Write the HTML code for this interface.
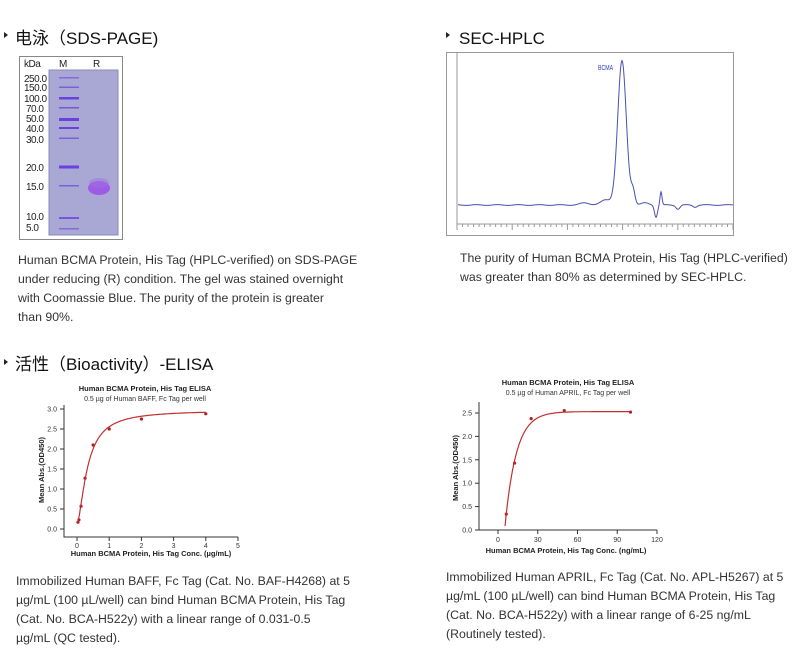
<!DOCTYPE html>
<html><head><meta charset="utf-8"><style>
html,body{margin:0;padding:0;background:#fff;}
svg{display:block;}
.h{font-family:"Liberation Sans","Noto Sans CJK SC",sans-serif;font-size:17px;fill:#111;}
.c{font-family:"Liberation Sans",sans-serif;font-size:12.3px;fill:#333;}
.t{font-family:"Liberation Sans",sans-serif;font-size:7px;fill:#333;}
.tb{font-family:"Liberation Sans",sans-serif;font-size:7.5px;font-weight:bold;fill:#222;}
.g{font-family:"Liberation Sans",sans-serif;font-size:10px;fill:#222;letter-spacing:-0.5px;}
</style></head><body>
<svg id="s" width="800" height="651" viewBox="0 0 800 651" xmlns="http://www.w3.org/2000/svg">
<path d="M4,32 L8,35 L4,38Z" fill="#222"/>
<text class="h" x="15" y="44">电泳（SDS-PAGE)</text>
<path d="M446,32 L450,35 L446,38Z" fill="#222"/>
<text class="h" x="459" y="44">SEC-HPLC</text>
<path d="M4,359 L8,362 L4,365Z" fill="#222"/>
<text class="h" x="15" y="370">活性（Bioactivity）-ELISA</text>

<rect x="19.5" y="56.5" width="103" height="183" fill="#fff" stroke="#888"/>
<text class="g" x="24" y="67">kDa</text><text class="g" x="59" y="67">M</text><text class="g" x="93" y="67">R</text>
<rect x="49" y="70" width="69" height="165" fill="#a9a8d4" stroke="#8a88b8"/>
<g class="g">
<text x="24" y="82">250.0</text><text x="24" y="91">150.0</text><text x="24" y="102">100.0</text>
<text x="26" y="112">70.0</text><text x="26" y="122">50.0</text><text x="26" y="132">40.0</text>
<text x="26" y="143">30.0</text><text x="26" y="171">20.0</text><text x="26" y="190">15.0</text>
<text x="26" y="220">10.0</text><text x="26" y="231">5.0</text></g>
<g fill="#6a40e0">
<rect x="59" y="77" width="20" height="1.5" opacity=".6"/>
<rect x="59" y="86.5" width="20" height="1.5" opacity=".7"/>
<rect x="59" y="97" width="20" height="2.5"/>
<rect x="59" y="107" width="20" height="1.5" opacity=".8"/>
<rect x="59" y="118" width="20" height="3"/>
<rect x="59" y="127" width="20" height="2"/>
<rect x="59" y="137.5" width="20" height="1.5" opacity=".7"/>
<rect x="59" y="165.5" width="20" height="3"/>
<rect x="59" y="185" width="20" height="1.5" opacity=".7"/>
<rect x="59" y="217" width="20" height="2" opacity=".8"/>
<rect x="59" y="228" width="20" height="1.5" opacity=".6"/>
</g>
<ellipse cx="99" cy="188" rx="11" ry="7" fill="#9a4fe8" opacity=".85"/>
<ellipse cx="99" cy="183" rx="10" ry="5" fill="#a070e0" opacity=".5"/>

<rect x="446.5" y="52.5" width="287" height="183" fill="#fff" stroke="#999"/>
<line x1="457" y1="52" x2="457" y2="224" stroke="#999"/>
<line x1="457" y1="224" x2="733" y2="224" stroke="#999"/>
<g id="hticks" stroke="#999"></g>
<text x="598" y="70" font-family="Liberation Sans" font-size="7" fill="#3040c0" transform="scale(0.75,1)" style="transform-origin:598px 70px">BCMA</text>
<path id="hp" fill="none" stroke="#4a50b0" stroke-width="1"/>

<g class="c">
<text x="18" y="264">Human BCMA Protein, His Tag (HPLC-verified) on SDS-PAGE</text>
<text x="18" y="283">under reducing (R) condition. The gel was stained overnight</text>
<text x="18" y="302">with Coomassie Blue. The purity of the protein is greater</text>
<text x="18" y="321">than 90%.</text>
<text x="460" y="262">The purity of Human BCMA Protein, His Tag (HPLC-verified)</text>
<text x="460" y="281">was greater than 80% as determined by SEC-HPLC.</text>
<text x="16" y="585">Immobilized Human BAFF, Fc Tag (Cat. No. BAF-H4268) at 5</text>
<text x="16" y="604">µg/mL (100 µL/well) can bind Human BCMA Protein, His Tag</text>
<text x="16" y="623">(Cat. No. BCA-H522y) with a linear range of 0.031-0.5</text>
<text x="16" y="642">µg/mL (QC tested).</text>
<text x="446" y="581">Immobilized Human APRIL, Fc Tag (Cat. No. APL-H5267) at 5</text>
<text x="446" y="600">µg/mL (100 µL/well) can bind Human BCMA Protein, His Tag</text>
<text x="446" y="619">(Cat. No. BCA-H522y) with a linear range of 6-25 ng/mL</text>
<text x="446" y="638">(Routinely tested).</text>
</g>

<text class="tb" x="145" y="391" text-anchor="middle">Human BCMA Protein, His Tag ELISA</text>
<text class="t" x="145" y="401" text-anchor="middle" font-size="6">0.5 µg of Human BAFF, Fc Tag per well</text>
<g stroke="#333" fill="none"><path d="M64,405 V537 H238"/></g>
<g id="l1"></g>
<text class="tb" x="0" y="0" transform="translate(44,470) rotate(-90)" text-anchor="middle">Mean Abs.(OD450)</text>
<text class="tb" x="151" y="556" text-anchor="middle">Human BCMA Protein, His Tag Conc. (µg/mL)</text>
<path id="c1" fill="none" stroke="#c03030" stroke-width="1.2"/>

<text class="tb" x="568" y="385" text-anchor="middle">Human BCMA Protein, His Tag ELISA</text>
<text class="t" x="568" y="395" text-anchor="middle" font-size="6">0.5 µg of Human APRIL, Fc Tag per well</text>
<g stroke="#333" fill="none"><path d="M479,402 V530 H657"/></g>
<g id="l2"></g>
<text class="tb" x="0" y="0" transform="translate(458,468) rotate(-90)" text-anchor="middle">Mean Abs.(OD450)</text>
<text class="tb" x="566" y="553" text-anchor="middle">Human BCMA Protein, His Tag Conc. (ng/mL)</text>
<path id="c2" fill="none" stroke="#c03030" stroke-width="1.2"/>
</svg>
<script>
var NS="http://www.w3.org/2000/svg",s=document.getElementById('s');
function el(p,t,a,txt){var e=document.createElementNS(NS,t);for(var k in a)e.setAttribute(k,a[k]);if(txt!=null)e.textContent=txt;p.appendChild(e);return e;}
var ht=document.getElementById('hticks');
for(var i=0;i<=50;i++){var x=457+i*276/50;el(ht,'line',{x1:x,y1:224,x2:x,y2:i%10==0?230:227});}
var d="";
function g(x,c,w,h){return h*Math.exp(-Math.pow((x-c)/w,2)/2);}
for(var x=458;x<=733;x+=0.5){
 var y=205+Math.sin(x*0.3)*0.4;
 y-=g(x,622,4.3,144);y-=g(x,633,2,14);y-=g(x,606,5,5);y-=g(x,585,5,2);
 y+=g(x,656,1.5,12);y-=g(x,661,1,13);y+=g(x,678,2,4);y+=g(x,695,2,2);y-=g(x,645,4,2);
 d+=(d?"L":"M")+x.toFixed(1)+","+y.toFixed(1);}
document.getElementById('hp').setAttribute('d',d);
var l1=document.getElementById('l1');
function X1(v){return 77+v*32.2;}function Y1(v){return 529-v*40;}
for(var v=0;v<=3.01;v+=0.5){el(l1,'line',{x1:60,y1:Y1(v),x2:64,y2:Y1(v),stroke:'#333'});el(l1,'text',{x:57,y:Y1(v)+2.5,'class':'t','text-anchor':'end'},v.toFixed(1));}
for(var v=0;v<=5;v++){el(l1,'line',{x1:X1(v),y1:537,x2:X1(v),y2:541,stroke:'#333'});el(l1,'text',{x:X1(v),y:548,'class':'t','text-anchor':'middle'},v);}
function f1(x){var a=Math.pow(x,1.6),k=Math.pow(0.33,1.6);return 0.12+2.85*a/(a+k);}
d="";for(var x=0.02;x<=4;x+=0.01){d+=(d?"L":"M")+X1(x).toFixed(1)+","+Y1(f1(x)).toFixed(1);}
document.getElementById('c1').setAttribute('d',d);
[[0.03,0.17],[0.06,0.23],[0.125,0.57],[0.25,1.27],[0.5,2.1],[1,2.5],[2,2.75],[4,2.88]].forEach(function(p){el(l1,'circle',{cx:X1(p[0]),cy:Y1(p[1]),r:1.6,fill:'#b02020'});});
var l2=document.getElementById('l2');
function X2(v){return 498+v*1.325;}function Y2(v){return 530-v*46.8;}
for(var v=0;v<=2.51;v+=0.5){el(l2,'line',{x1:475,y1:Y2(v),x2:479,y2:Y2(v),stroke:'#333'});el(l2,'text',{x:472,y:Y2(v)+2.5,'class':'t','text-anchor':'end'},v.toFixed(1));}
for(var v=0;v<=120;v+=30){el(l2,'line',{x1:X2(v),y1:530,x2:X2(v),y2:534,stroke:'#333'});el(l2,'text',{x:X2(v),y:542,'class':'t','text-anchor':'middle'},v);}
function f2(x){return 2.53*(1-Math.exp(-(x-5)/8.5));}
d="";for(var x=5.3;x<=100;x+=0.25){d+=(d?"L":"M")+X2(x).toFixed(1)+","+Y2(f2(x)).toFixed(1);}
document.getElementById('c2').setAttribute('d',d);
[[6.25,0.34],[12.5,1.43],[25,2.38],[50,2.55],[100,2.52]].forEach(function(p){el(l2,'circle',{cx:X2(p[0]),cy:Y2(p[1]),r:1.6,fill:'#b02020'});});
</script>
</body></html>
